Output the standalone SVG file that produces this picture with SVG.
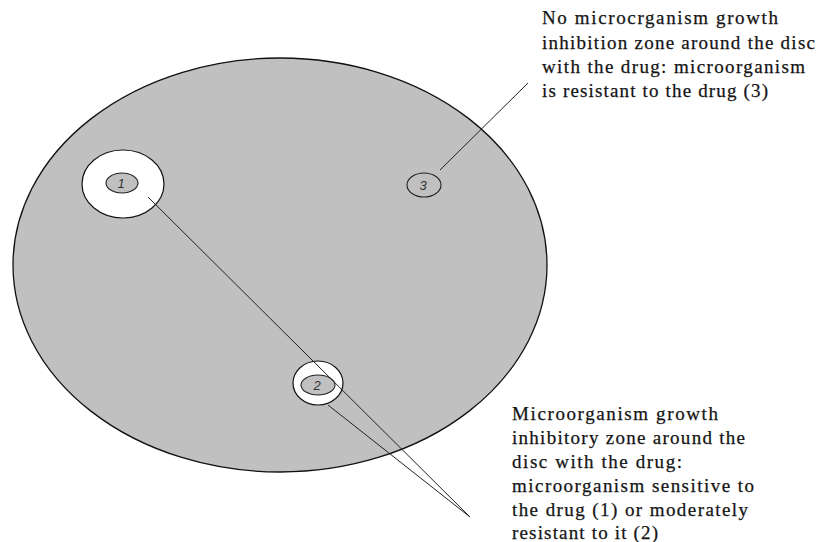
<svg xmlns="http://www.w3.org/2000/svg" width="821" height="542" viewBox="0 0 821 542">
  <style>
    .plate { fill: #c0c0c0; stroke: #111; stroke-width: 1.3; }
    .zone { fill: #ffffff; stroke: #111; stroke-width: 1.2; }
    .disc { fill: #c0c0c0; stroke: #222; stroke-width: 1.1; }
    .num { font-family: "Liberation Sans", Arial, sans-serif; font-style: italic; font-size: 13px; fill: #333; text-anchor: middle; }
    .lbl { font-family: "Liberation Serif", "Times New Roman", serif; font-size: 19px; fill: #141414; stroke: #141414; stroke-width: 0.25; }
    .lead { stroke: #222; stroke-width: 1; fill: none; }
  </style>
  <rect width="821" height="542" fill="#ffffff"/>

  <!-- Petri dish with agar -->
  <g id="plate">
    <ellipse class="plate" cx="280" cy="265" rx="267" ry="207"/>
  </g>

  <!-- Disc 1 with wide inhibition zone -->
  <g id="disc1">
    <ellipse class="zone" cx="123" cy="184" rx="41" ry="34"/>
    <ellipse class="disc" cx="122" cy="183" rx="16" ry="10"/>
    <text class="num" x="121" y="188">1</text>
  </g>

  <!-- Disc 2 with narrow inhibition zone -->
  <g id="disc2">
    <ellipse class="zone" cx="318" cy="383" rx="25" ry="22"/>
    <ellipse class="disc" cx="318" cy="385" rx="17" ry="10"/>
    <text class="num" x="317" y="390">2</text>
  </g>

  <!-- Disc 3 without inhibition zone -->
  <g id="disc3">
    <ellipse class="disc" cx="424" cy="185" rx="17" ry="12"/>
    <text class="num" x="423" y="190">3</text>
  </g>

  <!-- Leader lines -->
  <g id="connectors">
    <line class="lead" x1="148" y1="197" x2="470" y2="517"/>
    <line class="lead" x1="328" y1="405" x2="470" y2="517"/>
    <line class="lead" x1="440" y1="170" x2="528" y2="83"/>
  </g>

  <!-- Label for resistant case -->
  <g id="label-resistant">
    <text class="lbl" x="542" y="24" textLength="236" lengthAdjust="spacing">No microcrganism  growth</text>
    <text class="lbl" x="542" y="49" textLength="273" lengthAdjust="spacing">inhibition zone around the disc</text>
    <text class="lbl" x="542" y="73" textLength="263" lengthAdjust="spacing">with the drug: microorganism</text>
    <text class="lbl" x="542" y="97" textLength="226" lengthAdjust="spacing">is resistant to the drug (3)</text>
  </g>

  <!-- Label for sensitive / moderately resistant cases -->
  <g id="label-sensitive">
    <text class="lbl" x="512" y="420" textLength="206" lengthAdjust="spacing">Microorganism  growth</text>
    <text class="lbl" x="512" y="444" textLength="233" lengthAdjust="spacing">inhibitory zone around the</text>
    <text class="lbl" x="512" y="468" textLength="170" lengthAdjust="spacing">disc with the drug:</text>
    <text class="lbl" x="512" y="492" textLength="242" lengthAdjust="spacing">microorganism  sensitive to</text>
    <text class="lbl" x="512" y="516" textLength="236" lengthAdjust="spacing">the drug (1)  or moderately</text>
    <text class="lbl" x="512" y="539" textLength="146" lengthAdjust="spacing">resistant to it (2)</text>
  </g>
</svg>
